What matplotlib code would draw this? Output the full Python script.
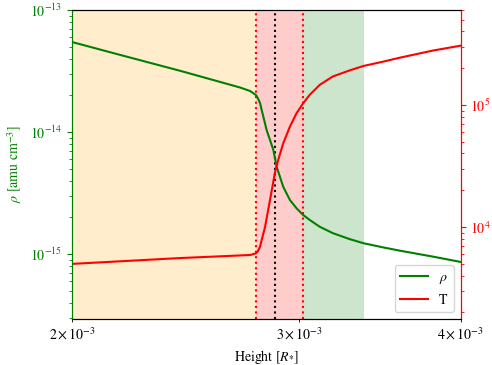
import matplotlib
matplotlib.use('Agg')
import matplotlib.pyplot as plt
import numpy as np

plt.rcParams['font.family'] = 'STIXGeneral'
plt.rcParams['mathtext.fontset'] = 'stix'

# density profile (height in R_*, rho in amu cm^-3)
h_rho = [2.000e-3, 2.179e-3, 2.425e-3, 2.699e-3, 2.748e-3, 2.777e-3, 2.787e-3,
         2.797e-3, 2.805e-3, 2.830e-3, 2.847e-3, 2.864e-3, 2.881e-3, 2.915e-3,
         2.950e-3, 2.985e-3, 3.020e-3, 3.056e-3, 3.111e-3, 3.184e-3, 3.282e-3,
         3.365e-3, 3.481e-3, 3.589e-3, 3.806e-3, 4.000e-3]
rho = [5.47e-14, 4.29e-14, 3.18e-14, 2.32e-14, 2.17e-14, 2.01e-14, 1.88e-14,
       1.73e-14, 1.52e-14, 1.04e-14, 8.63e-15, 7.15e-15, 5.21e-15, 3.57e-15,
       2.78e-15, 2.38e-15, 2.10e-15, 1.91e-15, 1.68e-15, 1.49e-15, 1.33e-15,
       1.23e-15, 1.14e-15, 1.07e-15, 9.57e-16, 8.65e-16]

# temperature profile (K)
h_T = [2.000e-3, 2.425e-3, 2.748e-3, 2.777e-3, 2.787e-3, 2.797e-3, 2.822e-3,
       2.847e-3, 2.872e-3, 2.889e-3, 2.915e-3, 2.950e-3, 2.985e-3, 3.020e-3,
       3.056e-3, 3.111e-3, 3.184e-3, 3.282e-3, 3.365e-3, 3.481e-3, 3.589e-3,
       3.806e-3, 4.000e-3]
T = [4.98e3, 5.56e3, 5.89e3, 6.08e3, 6.35e3, 6.90e3, 1.00e4,
     1.66e4, 2.77e4, 3.54e4, 4.85e4, 6.64e4, 8.55e4, 1.03e5,
     1.21e5, 1.46e5, 1.71e5, 1.92e5, 2.09e5, 2.26e5, 2.44e5,
     2.79e5, 3.06e5]

# region boundaries
h_start = 2.0e-3
h_lo = 2.777e-3
h_mid = 2.872e-3
h_hi = 3.019e-3
h_green = 3.366e-3

fig = plt.figure(figsize=(4.92, 3.65), dpi=100)
ax1 = fig.add_axes([0.1463, 0.126, 0.79, 0.8466])
ax2 = ax1.twinx()

ax1.axvspan(h_start, h_lo, color='orange', alpha=0.2, lw=0)
ax1.axvspan(h_lo, h_hi, color='red', alpha=0.2, lw=0)
ax1.axvspan(h_hi, h_green, color='green', alpha=0.2, lw=0)
ax1.axvline(h_lo, color='red', ls=':', lw=1.5)
ax1.axvline(h_mid, color='black', ls=':', lw=1.5)
ax1.axvline(h_hi, color='red', ls=':', lw=1.5)

l1, = ax1.plot(h_rho, rho, color='green', lw=1.5, label=r'$\rho$')
l2, = ax2.plot(h_T, T, color='red', lw=1.5, label='T')

ax1.set_xscale('log')
ax1.set_yscale('log')
ax2.set_yscale('log')
ax1.set_xlim(2e-3, 4e-3)
ax1.set_ylim(2.95e-16, 1e-13)
ax2.set_ylim(1.76e3, 6.0e5)

ax1.set_xlabel(r'Height [$R_{*}$]')
ax1.set_ylabel(r'$\rho$ [amu cm$^{-3}$]', color='green')
ax1.tick_params(axis='y', which='both', colors='green')
ax2.tick_params(axis='y', which='both', colors='red')
ax2.spines['left'].set_color('green')
ax2.spines['right'].set_color('red')
ax1.spines['left'].set_color('green')
ax1.spines['right'].set_color('red')

ax2.legend(handles=[l1, l2], loc='lower right')

fig.savefig('out.png', dpi=100)
